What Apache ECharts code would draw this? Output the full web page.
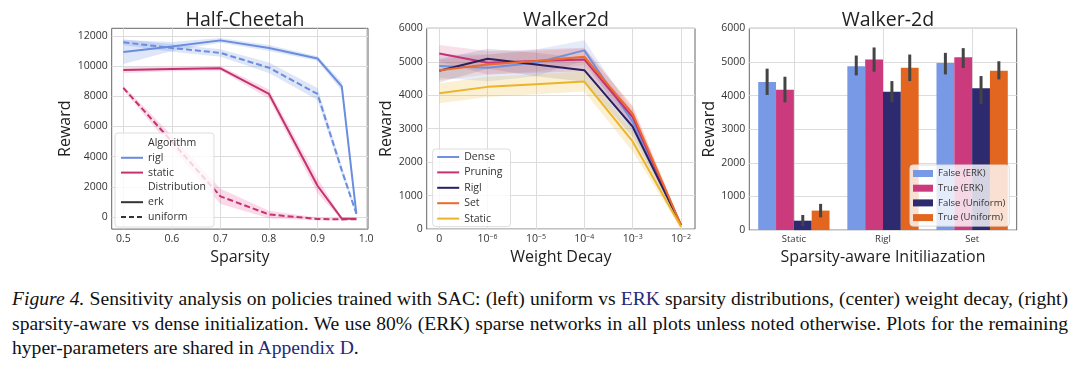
<!DOCTYPE html>
<html><head><meta charset="utf-8">
<script src="https://cdn.jsdelivr.net/npm/echarts@6/dist/echarts.min.js"></script>
<style>
body{margin:0;background:#fff;width:1080px;height:370px;overflow:hidden;position:relative;}
#c{position:absolute;left:0;top:0;width:1080px;height:270px;}
#cap{position:absolute;left:12px;top:287px;width:1056px;font-family:"Liberation Serif","Times New Roman",serif;font-size:19.6px;line-height:24.5px;color:#111;}
#cap div{white-space:nowrap;}
#cap .j{text-align:justify;text-align-last:justify;}
#cap .lk{color:#1f2a78;}
</style></head><body>
<div id="c"></div>
<div id="cap">
<div class="j"><i>Figure 4.</i> Sensitivity analysis on policies trained with SAC: (left) uniform vs <span class="lk">ERK</span> sparsity distributions, (center) weight decay, (right)</div>
<div class="j">sparsity-aware vs dense initialization. We use 80% (ERK) sparse networks in all plots unless noted otherwise. Plots for the remaining</div>
<div>hyper-parameters are shared in <span class="lk">Appendix D</span>.</div>
</div>
<script>
// ---------- Data: Half-Cheetah ----------
const sparsity = [0.5, 0.6, 0.7, 0.8, 0.9, 0.95, 0.98];
const sparsityTicks = [0.5, 0.6, 0.7, 0.8, 0.9, 1.0];
const rewardTicksHC = [0, 2000, 4000, 6000, 8000, 10000, 12000];
const riglErk = [10930, 11300, 11700, 11200, 10500, 8650, 220];
const riglErkBand = [800, 300, 150, 200, 150, 300, 100];
const riglUniform = [11570, 11200, 10870, 9890, 8150, 3100, 220];
const riglUniformBand = [200, 250, 250, 350, 400, 300, 100];
const staticErk = [9740, 9800, 9850, 8150, 2070, -110, -110];
const staticErkBand = [200, 150, 150, 300, 500, 80, 50];
const staticUniform = [8550, 5000, 1370, 170, -130, -160, -140];
const staticUniformBand = [150, 400, 500, 250, 100, 60, 60];

// ---------- Data: Walker2d weight decay ----------
const wdPos = [0, 1, 2, 3, 4, 5];
const wdLabels = ['0', '10{s|−6}', '10{s|−5}', '10{s|−4}', '10{s|−3}', '10{s|−2}'];
const rewardTicksW = [0, 1000, 2000, 3000, 4000, 5000, 6000];
const wdDense = [4870, 4820, 4970, 5340, 3210, 120];
const wdDenseBand = [350, 400, 400, 300, 300, 60];
const wdPruning = [5250, 4970, 5020, 5070, 3350, 120];
const wdPruningBand = [250, 350, 350, 350, 300, 60];
const wdRigl = [4730, 5090, 4920, 4750, 3060, 120];
const wdRiglBand = [350, 300, 350, 350, 300, 60];
const wdSet = [4750, 4920, 5020, 5150, 3450, 120];
const wdSetBand = [300, 300, 300, 250, 250, 60];
const wdStatic = [4060, 4250, 4330, 4410, 2620, 70];
const wdStaticBand = [300, 300, 300, 300, 300, 60];

// ---------- Data: Walker-2d bars ----------
const initCats = ['Static', 'Rigl', 'Set'];
const falseErk = [4400, 4870, 4970];
const falseErkLo = [4020, 4600, 4630];
const falseErkHi = [4800, 5190, 5270];
const trueErk = [4170, 5070, 5140];
const trueErkLo = [3800, 4710, 4820];
const trueErkHi = [4560, 5430, 5410];
const falseUni = [280, 4110, 4220];
const falseUniLo = [120, 3800, 3750];
const falseUniHi = [450, 4430, 4580];
const trueUni = [580, 4830, 4740];
const trueUniLo = [380, 4430, 4480];
const trueUniHi = [780, 5220, 5020];

const FONT = 'Open Sans';
const C_RIGL = '#6a8ddf', C_STATIC = '#c4336f';
const C_DENSE = '#7090e0', C_PRUN = '#c8306f', C_RIGLW = '#2c1f5e', C_SET = '#ec6a2c', C_STAT = '#ebb52a';
const B_FE = '#7799e6', B_TE = '#cc3a7e', B_FU = '#2e2a70', B_TU = '#e2661f';

function bandSeries(xs, ys, ds, color, ax) {
  return {
    type: 'custom', xAxisIndex: ax, yAxisIndex: ax, silent: true, z: 1,
    data: xs.map((x, i) => [x, ys[i] - ds[i], ys[i] + ds[i]]),
    renderItem(params, api) {
      if (params.dataIndex !== 0) return null;
      const up = [], lo = [];
      for (let i = 0; i < xs.length; i++) {
        up.push(api.coord([xs[i], ys[i] + ds[i]]));
        lo.push(api.coord([xs[i], ys[i] - ds[i]]));
      }
      return { type: 'polygon', shape: { points: up.concat(lo.reverse()) }, style: { fill: color } };
    }
  };
}
function lineSeries(name, xs, ys, color, ax, dashed) {
  return {
    name, type: 'line', xAxisIndex: ax, yAxisIndex: ax, symbol: 'none', z: 3,
    data: xs.map((x, i) => [x, ys[i]]), color,
    lineStyle: { color, width: 2, type: dashed ? [6, 3] : 'solid' }
  };
}
function dummy(name, color, dashed, hidden) {
  return {
    name, type: 'line', xAxisIndex: 0, yAxisIndex: 0, data: [], symbol: 'none', color,
    lineStyle: { color, width: 2, type: dashed ? [5, 3] : 'solid', opacity: hidden ? 0 : 1 }
  };
}
function barSeries(name, vals, color) {
  return {
    name, type: 'bar', xAxisIndex: 2, yAxisIndex: 2, data: vals, color,
    barCategoryGap: '20%', barGap: '0%', itemStyle: { color }, z: 2
  };
}
function errSeries(idx, lo, hi) {
  return {
    type: 'custom', xAxisIndex: 2, yAxisIndex: 2, silent: true, z: 5,
    data: initCats.map((c, i) => [i, lo[i], hi[i]]),
    renderItem(params, api) {
      const band = api.size([1, 0])[0];
      const bw = band * 0.8 / 4;
      const xc = api.coord([api.value(0), 0])[0] - band * 0.4 + bw * (idx + 0.5);
      const p1 = api.coord([api.value(0), api.value(1)]);
      const p2 = api.coord([api.value(0), api.value(2)]);
      return { type: 'line', shape: { x1: xc, y1: p1[1], x2: xc, y2: p2[1] }, style: { stroke: '#444', lineWidth: 3 } };
    }
  };
}

const gridLine = { show: true, lineStyle: { color: '#dcdcdc', width: 1 } };
const lblStyle = { color: '#333', fontSize: 10.5, fontFamily: FONT };
const nameStyle = { color: '#222', fontSize: 16, fontFamily: FONT };
const titleStyle = { fontSize: 19.5, fontWeight: 'normal', color: '#222', fontFamily: FONT };
const plain = v => String(v);

const option = {
  animation: false,
  textStyle: { fontFamily: FONT },
  title: [
    { text: 'Half-Cheetah', left: 240, top: 5, textAlign: 'center', textStyle: titleStyle },
    { text: 'Walker2d', left: 561, top: 5, textAlign: 'center', textStyle: titleStyle },
    { text: 'Walker-2d', left: 883, top: 5, textAlign: 'center', textStyle: titleStyle }
  ],
  grid: [
    { left: 111.7, top: 28.3, width: 256.3, height: 204, show: true, borderColor: '#666', borderWidth: 1, backgroundColor: '#fff' },
    { left: 426.7, top: 28.3, width: 268.3, height: 204, show: true, borderColor: '#666', borderWidth: 1, backgroundColor: '#fff' },
    { left: 749.3, top: 28.3, width: 267.4, height: 204, show: true, borderColor: '#666', borderWidth: 1, backgroundColor: '#fff' }
  ],
  xAxis: [
    { type: 'value', gridIndex: 0, min: 0.476, max: 1.004, name: 'Sparsity', nameLocation: 'middle', nameGap: 13, nameTextStyle: nameStyle,
      axisLine: { show: false }, axisTick: { show: false, customValues: sparsityTicks },
      axisLabel: Object.assign({ customValues: sparsityTicks, margin: 4, formatter: v => v.toFixed(1) }, lblStyle), splitLine: gridLine },
    { type: 'value', gridIndex: 1, min: -0.26, max: 5.29, name: 'Weight Decay', nameLocation: 'middle', nameGap: 13, nameTextStyle: nameStyle,
      axisLine: { show: false }, axisTick: { show: false, customValues: wdPos },
      axisLabel: Object.assign({ customValues: wdPos, margin: 4, formatter: v => wdLabels[Math.round(v)],
        rich: { s: { fontSize: 7, verticalAlign: 'top', color: '#333', fontFamily: FONT } } }, lblStyle), splitLine: gridLine },
    { type: 'category', gridIndex: 2, data: initCats, name: 'Sparsity-aware Initiliazation', nameLocation: 'middle', nameGap: 13, nameTextStyle: nameStyle,
      axisLine: { show: false }, axisTick: { show: false, alignWithLabel: true },
      axisLabel: Object.assign({ margin: 4 }, lblStyle, { fontSize: 9.5 }), splitLine: Object.assign({ alignWithLabel: true }, gridLine) }
  ],
  yAxis: [
    { type: 'value', gridIndex: 0, min: -800, max: 12500, name: 'Reward', nameLocation: 'middle', nameGap: 32, nameTextStyle: nameStyle,
      axisLine: { show: false }, axisTick: { show: false, customValues: rewardTicksHC },
      axisLabel: Object.assign({ customValues: rewardTicksHC, margin: 4, formatter: plain }, lblStyle), splitLine: gridLine },
    { type: 'value', gridIndex: 1, min: 0, max: 6000, interval: 1000, name: 'Reward', nameLocation: 'middle', nameGap: 26, nameTextStyle: nameStyle,
      axisLine: { show: false }, axisTick: { show: false },
      axisLabel: Object.assign({ margin: 4, formatter: plain }, lblStyle), splitLine: gridLine },
    { type: 'value', gridIndex: 2, min: 0, max: 6000, interval: 1000, name: 'Reward', nameLocation: 'middle', nameGap: 27, nameTextStyle: nameStyle,
      axisLine: { show: false }, axisTick: { show: false },
      axisLabel: Object.assign({ margin: 4, formatter: plain }, lblStyle), splitLine: gridLine }
  ],
  legend: [
    { left: 115, top: 133, orient: 'vertical', selectedMode: false, itemWidth: 22, itemHeight: 12, itemGap: 2.8,
      itemStyle: { opacity: 0 },
      padding: [4, 8, 4, 5], backgroundColor: 'rgba(255,255,255,0.8)', borderColor: '#ddd', borderWidth: 1, borderRadius: 3,
      textStyle: { color: '#333', fontSize: 10.5, lineHeight: 12, fontFamily: FONT },
      data: [{ name: 'Algorithm', icon: 'none' }, 'rigl', 'static', { name: 'Distribution', icon: 'none' }, 'erk', 'uniform'] },
    { left: 432.7, top: 149, orient: 'vertical', selectedMode: false, itemWidth: 22, itemHeight: 12, itemGap: 3.4,
      itemStyle: { opacity: 0 },
      padding: [2, 8, 2, 3.5], backgroundColor: 'rgba(255,255,255,0.8)', borderColor: '#ddd', borderWidth: 1, borderRadius: 3,
      textStyle: { color: '#333', fontSize: 10.5, lineHeight: 12, fontFamily: FONT },
      data: ['Dense', 'Pruning', 'Rigl', 'Set', 'Static'] },
    { left: 910, top: 165, orient: 'vertical', selectedMode: false, itemWidth: 20, itemHeight: 7, itemGap: 2.7, icon: 'rect',
      padding: [2.5, 4, 2.5, 3], backgroundColor: 'rgba(255,255,255,0.8)', borderColor: '#ddd', borderWidth: 1, borderRadius: 3,
      textStyle: { color: '#333', fontSize: 9.5, lineHeight: 12, fontFamily: FONT },
      data: ['False (ERK)', 'True (ERK)', 'False (Uniform)', 'True (Uniform)'] }
  ],
  series: [
    bandSeries(sparsity, riglErk, riglErkBand, 'rgba(106,141,223,0.22)', 0),
    bandSeries(sparsity, riglUniform, riglUniformBand, 'rgba(106,141,223,0.22)', 0),
    bandSeries(sparsity, staticErk, staticErkBand, 'rgba(235,80,150,0.22)', 0),
    bandSeries(sparsity, staticUniform, staticUniformBand, 'rgba(235,80,150,0.22)', 0),
    lineSeries('rigl erk', sparsity, riglErk, C_RIGL, 0, false),
    lineSeries('rigl uniform', sparsity, riglUniform, C_RIGL, 0, true),
    lineSeries('static erk', sparsity, staticErk, C_STATIC, 0, false),
    lineSeries('static uniform', sparsity, staticUniform, C_STATIC, 0, true),
    dummy('Algorithm', '#fff', false, true),
    dummy('rigl', C_RIGL, false),
    dummy('static', C_STATIC, false),
    dummy('Distribution', '#fff', false, true),
    dummy('erk', '#333', false),
    dummy('uniform', '#333', true),

    bandSeries(wdPos, wdDense, wdDenseBand, 'rgba(112,144,224,0.18)', 1),
    bandSeries(wdPos, wdPruning, wdPruningBand, 'rgba(200,48,111,0.15)', 1),
    bandSeries(wdPos, wdRigl, wdRiglBand, 'rgba(44,31,94,0.12)', 1),
    bandSeries(wdPos, wdSet, wdSetBand, 'rgba(236,106,44,0.15)', 1),
    bandSeries(wdPos, wdStatic, wdStaticBand, 'rgba(235,181,42,0.2)', 1),
    lineSeries('Dense', wdPos, wdDense, C_DENSE, 1, false),
    lineSeries('Pruning', wdPos, wdPruning, C_PRUN, 1, false),
    lineSeries('Rigl', wdPos, wdRigl, C_RIGLW, 1, false),
    lineSeries('Set', wdPos, wdSet, C_SET, 1, false),
    lineSeries('Static', wdPos, wdStatic, C_STAT, 1, false),

    barSeries('False (ERK)', falseErk, B_FE),
    barSeries('True (ERK)', trueErk, B_TE),
    barSeries('False (Uniform)', falseUni, B_FU),
    barSeries('True (Uniform)', trueUni, B_TU),
    errSeries(0, falseErkLo, falseErkHi),
    errSeries(1, trueErkLo, trueErkHi),
    errSeries(2, falseUniLo, falseUniHi),
    errSeries(3, trueUniLo, trueUniHi)
  ]
};
const chart = echarts.init(document.getElementById('c'));
chart.setOption(option);
</script>
</body></html>
